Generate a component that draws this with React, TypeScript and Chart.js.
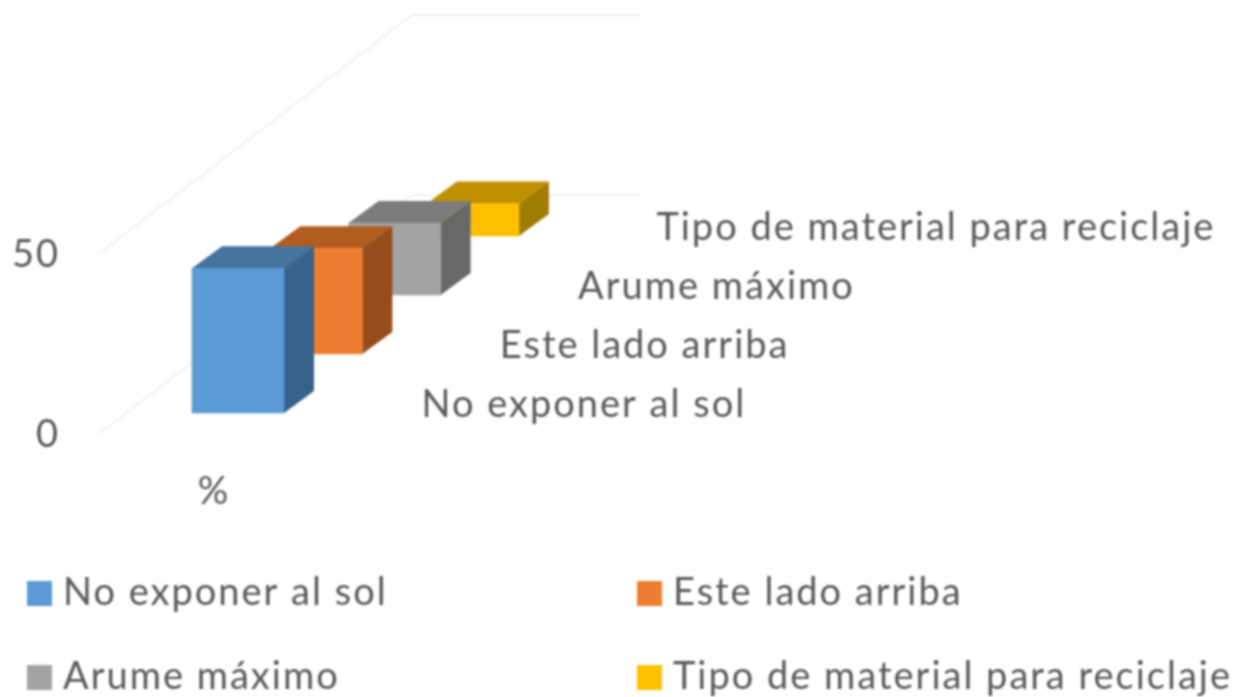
import React, { useEffect, useRef } from "react";
import { Chart, registerables } from "chart.js";

Chart.register(...registerables);

const categories = ["%"];
const seriesNames = ["No exponer al sol", "Este lado arriba", "Arume máximo", "Tipo de material para reciclaje"];
const seriesValues = [40.2, 29.4, 20, 9];
const frontColors = ["#5B9BD5", "#ED7D31", "#A3A3A3", "#FFC000"];
const topColors = ["#44749F", "#B35C20", "#7C7C7C", "#BF9000"];
const sideColors = ["#376289", "#964D1B", "#686868", "#A07C00"];
const yTicks = [0, 50];

const FONT = "Lato";
const FONT_SIZE = 38;
const TEXT = "#595959";
const SERIES_DX = 78.3;
const SERIES_DY = -59;
const FRONT_DY = -20;
const DEPTH_DX = 30;
const DEPTH_DY = -22;

const depth3d = {
  id: "depth3d",
  beforeDraw(chart: any) {
    chart.ctx.letterSpacing = "2px";
  },
  beforeDatasetsDraw(chart: any) {
    const { ctx, scales } = chart;
    ctx.save();
    ctx.strokeStyle = "#EAEAEA";
    ctx.lineWidth = 1.5;
    yTicks.forEach((v) => {
      const y = scales.y.getPixelForValue(v);
      const x = scales.x.left;
      ctx.beginPath();
      ctx.moveTo(x, y);
      ctx.lineTo(x + 312, y - 238);
      ctx.lineTo(x + 541, y - 238);
      ctx.stroke();
    });
    ctx.restore();
  },
  beforeDatasetDraw(chart: any, args: any) {
    const i = args.index;
    const { ctx } = chart;
    ctx.save();
    ctx.translate(i * SERIES_DX, FRONT_DY + i * SERIES_DY);
    const bar = chart.getDatasetMeta(i).data[0];
    const half = bar.width / 2;
    const l = bar.x - half;
    const r = bar.x + half;
    ctx.fillStyle = sideColors[i];
    ctx.beginPath();
    ctx.moveTo(r, bar.y);
    ctx.lineTo(r + DEPTH_DX, bar.y + DEPTH_DY);
    ctx.lineTo(r + DEPTH_DX, bar.base + DEPTH_DY);
    ctx.lineTo(r, bar.base);
    ctx.closePath();
    ctx.fill();
    ctx.fillStyle = topColors[i];
    ctx.beginPath();
    ctx.moveTo(l, bar.y);
    ctx.lineTo(l + DEPTH_DX, bar.y + DEPTH_DY);
    ctx.lineTo(r + DEPTH_DX, bar.y + DEPTH_DY);
    ctx.lineTo(r, bar.y);
    ctx.closePath();
    ctx.fill();
  },
  afterDatasetDraw(chart: any) {
    chart.ctx.restore();
  },
  afterDatasetsDraw(chart: any) {
    const { ctx, scales } = chart;
    ctx.save();
    ctx.font = `${FONT_SIZE}px ${FONT}`;
    ctx.fillStyle = TEXT;
    ctx.textBaseline = "middle";
    ctx.textAlign = "left";
    const cx = scales.x.getPixelForValue(0);
    const base = scales.y.getPixelForValue(0);
    seriesNames.forEach((name, i) => {
      ctx.fillText(name, cx + 183.5 + i * SERIES_DX, base + FRONT_DY - 8 + i * SERIES_DY);
    });
    // legend, two columns and two rows
    const cols = [27, 637];
    const rows = [581, 665];
    seriesNames.forEach((name, i) => {
      const x = cols[i % 2];
      const y = rows[Math.floor(i / 2)];
      ctx.fillStyle = frontColors[i];
      ctx.fillRect(x, y, 25, 25);
      ctx.fillStyle = TEXT;
      ctx.fillText(name, x + 36, y + 12);
    });
    ctx.restore();
  },
};

export default function App() {
  const ref = useRef<HTMLCanvasElement>(null);
  useEffect(() => {
    const chart = new Chart(ref.current as HTMLCanvasElement, {
      type: "bar",
      data: {
        labels: categories,
        datasets: seriesNames.map((label, i) => ({
          label,
          data: [seriesValues[i]],
          backgroundColor: frontColors[i],
          barThickness: 92,
          grouped: false,
          clip: false,
        })) as any,
      },
      options: {
        responsive: false,
        animation: false,
        layout: { autoPadding: false, padding: { top: 253, bottom: 184, left: 0, right: 862 } },
        plugins: { legend: { display: false }, tooltip: { enabled: false } },
        scales: {
          x: {
            afterFit: (s: any) => { s.height = 80; },
            grid: { display: false, drawTicks: false },
            border: { display: false },
            ticks: {
              color: TEXT,
              font: { family: FONT, size: FONT_SIZE },
              labelOffset: -24,
              padding: 36,
              maxRotation: 0,
            },
          },
          y: {
            min: 0,
            max: 50,
            afterFit: (s: any) => { s.width = 100; },
            afterBuildTicks: (s: any) => { s.ticks = yTicks.map((value) => ({ value })); },
            grid: { display: false, drawTicks: false },
            border: { display: false },
            ticks: {
              color: TEXT,
              font: { family: FONT, size: FONT_SIZE },
              padding: 40,
              labelOffset: 2,
            },
          },
        },
      } as any,
      plugins: [depth3d],
    });
    return () => chart.destroy();
  }, []);
  return (
    <div style={{ position: "absolute", left: 0, top: 0, width: 1238, height: 697, overflow: "hidden", background: "#fff" }}>
      <canvas ref={ref} width={1238} height={697} style={{ display: "block", filter: "blur(0.9px)" }} />
    </div>
  );
}
